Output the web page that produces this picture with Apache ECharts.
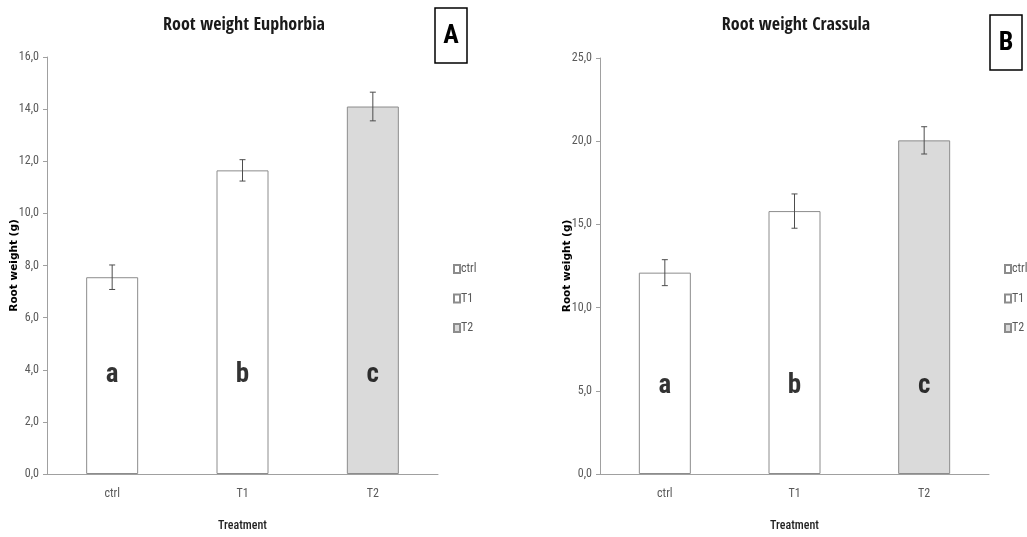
<!DOCTYPE html>
<html>
<head>
<meta charset="utf-8">
<script src="https://cdn.jsdelivr.net/npm/echarts@6/dist/echarts.min.js"></script>
<style>
  html, body { margin: 0; padding: 0; background: #fff; }
  #chart { width: 1027px; height: 537px; }
</style>
</head>
<body>
<div id="chart"></div>
<script>
// categories / treatments
const categories = ['ctrl', 'T1', 'T2']

// Euphorbia (panel A)
const euphorbiaMean = [7.55, 11.65, 14.1]
const euphorbiaErr = [0.47, 0.41, 0.55]
// Crassula (panel B)
const crassulaMean = [12.1, 15.8, 20.05]
const crassulaErr = [0.78, 1.03, 0.82]

// significance letters and the height they sit at
const letters = ['a', 'b', 'c']
const letterHeightA = 3.8
const letterHeightB = 5.25

const barFill = ['#ffffff', '#ffffff', '#dadada']
const cond = '"Open Sans Condensed", "Roboto Condensed", sans-serif'
const robo = '"Roboto Condensed", sans-serif'
const tickGrey = '#595959'
const axisGrey = '#a0a0a0'

const fmt = v => v.toFixed(1).replace('.', ',')

// 三个系列重叠在同一位置，方便图例显示
function barSeries(means, gridIdx) {
  return categories.map((name, i) => ({
    name: name,
    type: 'bar',
    xAxisIndex: gridIdx,
    yAxisIndex: gridIdx,
    barWidth: 52,
    barGap: '-100%',
    data: means.map((v, j) => (j === i ? v : '-')),
    itemStyle: { color: barFill[i], borderColor: '#8c8c8c', borderWidth: 1 },
    emphasis: { disabled: true }
  }))
}

// 误差线
function errorSeries(means, errs, gridIdx) {
  return {
    type: 'custom',
    xAxisIndex: gridIdx,
    yAxisIndex: gridIdx,
    z: 5,
    data: means.map((m, i) => [i, m - errs[i], m + errs[i]]),
    renderItem: (params, api) => {
      const lo = api.coord([api.value(0), api.value(1)])
      const hi = api.coord([api.value(0), api.value(2)])
      const half = 3
      const style = { stroke: '#4d4d4d', lineWidth: 1 }
      return {
        type: 'group',
        children: [
          { type: 'line', shape: { x1: hi[0], y1: hi[1], x2: lo[0], y2: lo[1] }, style },
          { type: 'line', shape: { x1: hi[0] - half, y1: hi[1], x2: hi[0] + half, y2: hi[1] }, style },
          { type: 'line', shape: { x1: lo[0] - half, y1: lo[1], x2: lo[0] + half, y2: lo[1] }, style }
        ]
      }
    }
  }
}

// 字母标记
function letterSeries(height, gridIdx) {
  return {
    type: 'scatter',
    xAxisIndex: gridIdx,
    yAxisIndex: gridIdx,
    symbolSize: 0,
    z: 6,
    data: letters.map((l, i) => [i, height]),
    label: {
      show: true,
      position: 'inside',
      formatter: p => letters[p.dataIndex],
      fontFamily: robo,
      fontWeight: 'bold',
      fontSize: 27,
      color: '#000'
    }
  }
}

function xAxisFor(gridIdx) {
  return {
    type: 'category',
    gridIndex: gridIdx,
    data: categories,
    axisLine: { lineStyle: { color: axisGrey } },
    axisTick: { length: 5, lineStyle: { color: axisGrey } },
    axisLabel: { color: tickGrey, fontFamily: robo, fontSize: 12, margin: 14 },
    name: 'Treatment',
    nameLocation: 'middle',
    nameGap: 46,
    nameMoveOverlap: false,
    nameTextStyle: { color: '#222', fontFamily: robo, fontWeight: 500, fontSize: 12 }
  }
}

function yAxisFor(gridIdx, max, interval) {
  return {
    type: 'value',
    gridIndex: gridIdx,
    min: 0,
    max: max,
    interval: interval,
    axisLine: { show: true, lineStyle: { color: axisGrey } },
    axisTick: { show: true, length: 4, lineStyle: { color: axisGrey } },
    splitLine: { show: false },
    axisLabel: { color: tickGrey, fontFamily: robo, fontSize: 12, margin: 8, formatter: fmt },
    name: 'Root weight (g)',
    nameLocation: 'middle',
    nameGap: 27,
    nameMoveOverlap: false,
    nameTextStyle: { color: '#000', fontFamily: '"DejaVu Sans", sans-serif', fontWeight: 'bold', fontSize: 10.5 }
  }
}

function legendFor(left) {
  return {
    orient: 'vertical',
    left: left,
    top: 263,
    padding: 0,
    itemWidth: 6,
    itemHeight: 8,
    itemGap: 17.5,
    icon: 'rect',
    selectedMode: false,
    data: categories,
    textStyle: { color: tickGrey, fontFamily: robo, fontSize: 12, padding: [0, 0, 0, -4] }
  }
}

function panelLetter(x, y, txt) {
  return {
    type: 'group',
    children: [
      { type: 'rect', shape: { x: x, y: y, width: 32, height: 55 }, style: { fill: '#fff', stroke: '#000', lineWidth: 1.5 } },
      { type: 'text', x: x + 16, y: y + 28, style: { text: txt, fill: '#000', font: 'bold 26px ' + robo, align: 'center', verticalAlign: 'middle' } }
    ]
  }
}

const option = {
  animation: false,
  backgroundColor: '#fff',
  title: [
    { text: 'Root weight Euphorbia', left: 239, top: 11, textAlign: 'center',
      textStyle: { fontFamily: cond, fontWeight: 'bold', fontSize: 18, color: '#1a1a1a' } },
    { text: 'Root weight Crassula', left: 791, top: 11, textAlign: 'center',
      textStyle: { fontFamily: cond, fontWeight: 'bold', fontSize: 18, color: '#1a1a1a' } }
  ],
  legend: [legendFor(453), legendFor(1004)],
  grid: [
    { left: 47, right: 589, top: 57, bottom: 57 },
    { left: 600, right: 38, top: 58, bottom: 55 }
  ],
  xAxis: [xAxisFor(0), xAxisFor(1)],
  yAxis: [yAxisFor(0, 16, 2), yAxisFor(1, 25, 5)],
  graphic: [panelLetter(435, 8, 'A'), panelLetter(990, 15, 'B')],
  series: [
    ...barSeries(euphorbiaMean, 0),
    errorSeries(euphorbiaMean, euphorbiaErr, 0),
    letterSeries(letterHeightA, 0),
    ...barSeries(crassulaMean, 1),
    errorSeries(crassulaMean, crassulaErr, 1),
    letterSeries(letterHeightB, 1)
  ]
}

const chart = echarts.init(document.getElementById('chart'))
chart.setOption(option)
</script>
</body>
</html>
